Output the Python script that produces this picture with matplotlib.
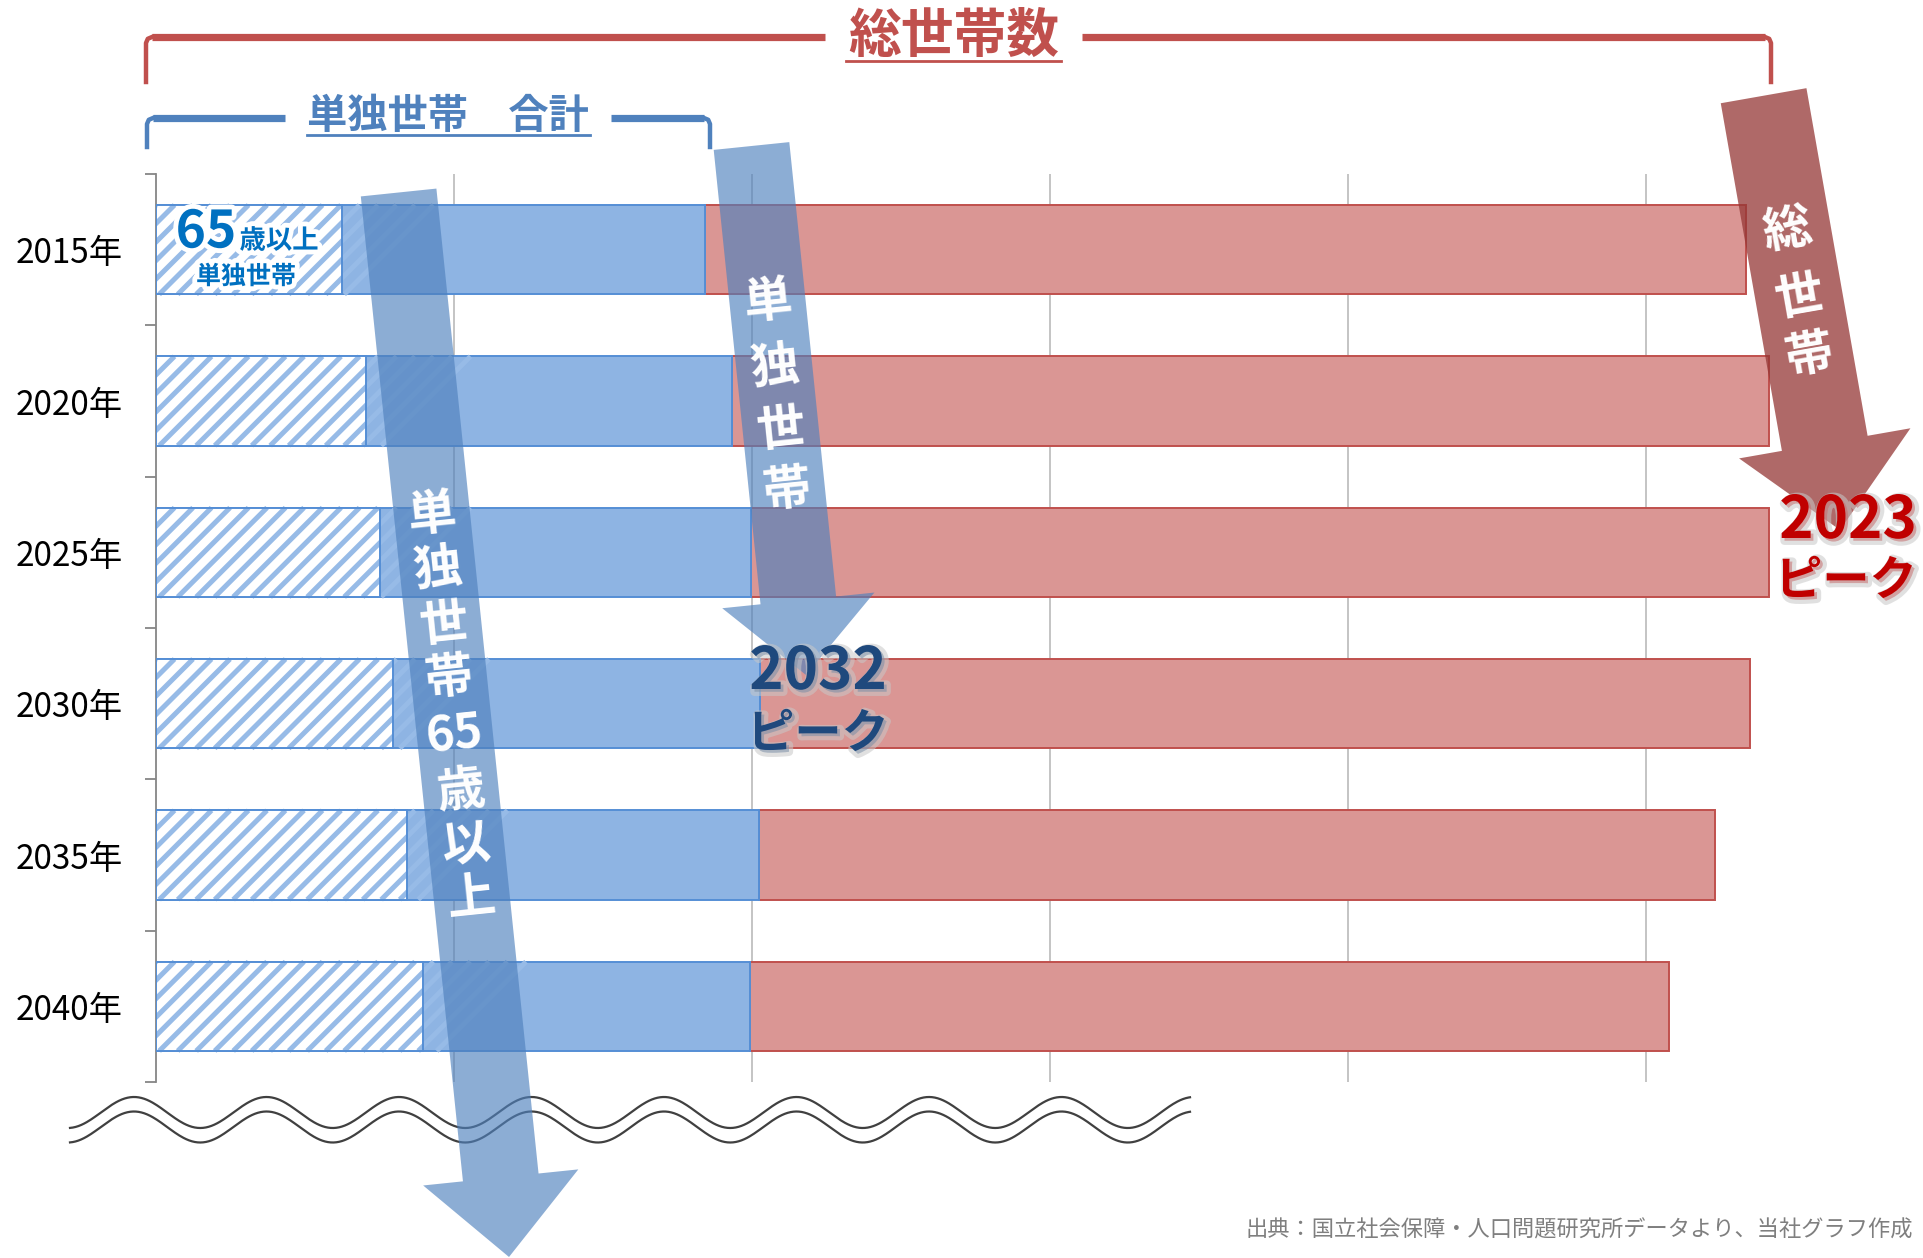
import numpy as np
import matplotlib
matplotlib.use('Agg')
import matplotlib.pyplot as plt
import matplotlib.patheffects as pe
from matplotlib.patches import Polygon
from matplotlib.collections import LineCollection
from matplotlib.transforms import IdentityTransform

# ---- data (万世帯) ----
years = ['2015年', '2020年', '2025年', '2030年', '2035年', '2040年']
total_households = [5333, 5411, 5411, 5348, 5231, 5076]
single_households = [1842, 1934, 1996, 2025, 2023, 1994]
single_65plus = [625, 703, 751, 796, 841, 896]
grid_ticks = [1000, 2000, 3000, 4000, 5000]

plt.rcParams['font.family'] = ['Noto Sans CJK JP', 'DejaVu Sans']

W, H = 1923, 1258
fig = plt.figure(figsize=(W / 100, H / 100), dpi=100)
ax = fig.add_axes([156 / W, 1 - 1082 / H, 1699 / W, (1082 - 174) / H])

y = np.arange(len(years))
tot = np.array(total_households)
sgl = np.array(single_households)
s65 = np.array(single_65plus)
bh = 0.59

ax.set_xlim(0, 5700)
ax.set_ylim(len(years) - 0.5, -0.5)

ax.barh(y, tot - sgl, left=sgl, height=bh, color='#DA9694', edgecolor='#C0504D', lw=1.4, zorder=2)
ax.barh(y, sgl, height=bh, color='#8EB4E3', edgecolor='#558ED5', lw=1.4, zorder=3)
hbars = ax.barh(y, s65, height=bh, color='white', lw=0, zorder=4)
ax.barh(y, s65, height=bh, fill=False, edgecolor='#558ED5', lw=1.4, zorder=6)

# diagonal stripe fill for the 65+ segment (pixel-space stripes clipped to each bar)
step = 18.5
for rect in hbars.patches:
    (x0, y0), (x1, y1) = ax.transData.transform(
        [(rect.get_x(), rect.get_y() + rect.get_height()), (rect.get_x() + rect.get_width(), rect.get_y())])
    yb, yt = min(y0, y1), max(y0, y1)
    hpx = yt - yb
    segs = [[(xs, yb), (xs + hpx, yt)] for xs in np.arange(x0 - hpx, x1 + step, step)]
    lc = LineCollection(segs, colors='#97BBE7', linewidths=3.6, transform=IdentityTransform(), zorder=5)
    lc.set_clip_path(rect)
    ax.add_collection(lc)

ax.set_xticks(grid_ticks)
ax.tick_params(axis='x', length=0, labelbottom=False)
ax.set_yticks(y)
ax.set_yticklabels(years, fontsize=24, color='black')
ax.tick_params(axis='y', which='major', length=0, pad=24)
ax.set_yticks(np.arange(-0.5, len(years), 1), minor=True)
ax.tick_params(axis='y', which='minor', length=8, width=1.3, color='#868686')
ax.grid(axis='x', color='#BFBFBF', lw=1.3)
ax.set_axisbelow(True)
for s in ['top', 'right', 'bottom']:
    ax.spines[s].set_visible(False)
ax.spines['left'].set_color('#868686')
ax.spines['left'].set_linewidth(1.3)

# ---- overlay in pixel coordinates for annotations ----
ov = fig.add_axes([0, 0, 1, 1])
ov.set_xlim(0, W)
ov.set_ylim(H, 0)
ov.axis('off')
ov.set_zorder(10)

# wavy break line
xs = np.linspace(70, 1190, 800)
for yc in (1112.5, 1127):
    ov.plot(xs, yc - 15.5 * np.cos(2 * np.pi * (xs - 134) / 132.5), color='#404040', lw=1.6, zorder=1)


def arrow(tail, tip, w, hw, hl, fc, alpha):
    t = np.array(tail, float)
    p = np.array(tip, float)
    u = (p - t) / np.linalg.norm(p - t)
    n = np.array([-u[1], u[0]])
    b = p - u * hl
    pts = [t + n * w / 2, b + n * w / 2, b + n * hw / 2, p, b - n * hw / 2, b - n * w / 2, t - n * w / 2]
    ov.add_patch(Polygon(pts, closed=True, fc=fc, ec='none', alpha=alpha, zorder=2))
    return t, p


def vtext(tail, tip, chars, ys, size):
    t = np.array(tail, float)
    p = np.array(tip, float)
    d = p - t
    rot = np.degrees(np.arctan2(d[0], d[1]))
    for ch, yy in zip(chars, ys):
        xx = t[0] + (yy - t[1]) * d[0] / d[1]
        ov.text(xx, yy, ch, color='white', fontsize=size, fontweight='bold', rotation=rot,
                ha='center', va='center', rotation_mode='anchor', zorder=4)


# big blue arrow (65+ single households)
t1, p1 = (398.6, 192.5), (509, 1257)
arrow(t1, p1, 76, 156, 80, '#4F81BD', 0.65)
vtext(t1, p1, ['単', '独', '世', '帯', '65', '歳', '以', '上'],
      [515, 570, 625, 678, 735, 791, 845, 898], 35)

# middle arrow (single households)
t2, p2 = (751.5, 146), (806, 675)
arrow(t2, p2, 76, 153, 75, '#4F81BD', 0.65)
vtext(t2, p2, ['単', '独', '世', '帯'], [302, 368, 430, 490], 35)

# red arrow (total households)
t3, p3 = (1763.6, 95.7), (1840, 530)
arrow(t3, p3, 87, 174, 88, '#953735', 0.75)
vtext(t3, p3, ['総', '世', '帯'], [231, 298, 356], 35)

shadow = [pe.Stroke(linewidth=6, foreground='#c8c8c8', alpha=0.55, offset=(2, -2)), pe.Normal()]
ov.text(818, 672, '2032', color='#1F497D', fontsize=42, fontweight='bold', ha='center', va='center',
        path_effects=shadow, zorder=5)
ov.text(818, 734, 'ピーク', color='#1F497D', fontsize=34, fontweight='bold', ha='center', va='center',
        path_effects=shadow, zorder=5)
ov.text(1848, 521, '2023', color='#C00000', fontsize=42, fontweight='bold', ha='center', va='center',
        path_effects=shadow, zorder=5)
ov.text(1846, 581, 'ピーク', color='#C00000', fontsize=34, fontweight='bold', ha='center', va='center',
        path_effects=shadow, zorder=5)

# label inside 2015 hatched bar
glow = [pe.withStroke(linewidth=7, foreground='white')]
ov.text(206, 232, '65', color='#0070C0', fontsize=37, fontweight='bold', ha='center', va='center',
        path_effects=glow, zorder=5)
ov.text(279, 241, '歳以上', color='#0070C0', fontsize=19, fontweight='bold', ha='center', va='center',
        path_effects=glow, zorder=5)
ov.text(246, 277, '単独世帯', color='#0070C0', fontsize=18, fontweight='bold', ha='center', va='center',
        path_effects=glow, zorder=5)


def bracket(x0, x1, yy, yend, g0, g1, color, lwh, lwv):
    ov.plot([g0, x0 + 6], [yy, yy], color=color, lw=lwh, solid_capstyle='butt', zorder=3)
    ov.plot([g1, x1 - 6], [yy, yy], color=color, lw=lwh, solid_capstyle='butt', zorder=3)
    r = 6
    for xe, sgn in ((x0, 1), (x1, -1)):
        ov.plot([xe + sgn * r, xe + sgn * r * 0.3, xe, xe], [yy, yy + r * 0.3, yy + r, yend],
                color=color, lw=lwv, solid_joinstyle='round', zorder=3)


# total households bracket and title
bracket(146, 1771, 37, 82, 825, 1082, '#C0504D', 5.2, 3.2)
ov.text(954, 36, '総世帯数', color='#C0504D', fontsize=38, fontweight='bold', ha='center', va='center', zorder=5)
ov.plot([846, 1061], [61, 61], color='#C0504D', lw=2, zorder=5)

# single households bracket and title
bracket(147, 710, 118, 147, 285, 611, '#4F81BD', 5.2, 3.2)
ov.text(448, 117, '単独世帯　合計', color='#4F81BD', fontsize=29, fontweight='bold', ha='center', va='center',
        zorder=5)
ov.plot([307, 590], [135, 135], color='#4F81BD', lw=2, zorder=5)

ov.text(1913, 1230, '出典：国立社会保障・人口問題研究所データより、当社グラフ作成', color='#7F7F7F',
        fontsize=16, ha='right', va='center', zorder=5)

fig.savefig('out.png', dpi=100, facecolor='white')
